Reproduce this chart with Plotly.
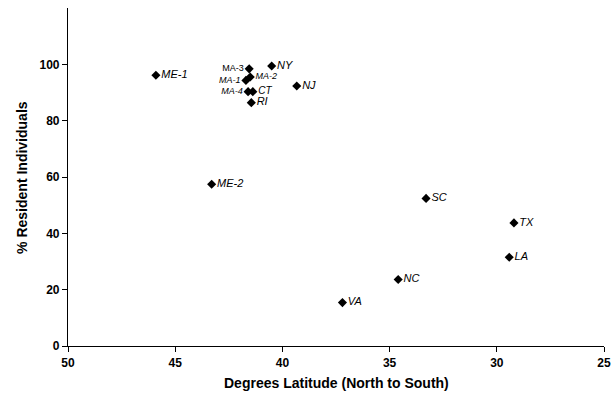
import plotly.graph_objects as go

sites = ["ME-1", "ME-2", "MA-3", "NY", "MA-2", "MA-1", "MA-4", "CT", "RI", "NJ",
         "SC", "TX", "LA", "NC", "VA"]
latitude = [45.9, 43.3, 41.55, 40.5, 41.5, 41.7, 41.6, 41.38, 41.45, 39.33,
            33.3, 29.2, 29.42, 34.6, 37.2]
resident = [96.1, 57.4, 98.4, 99.4, 95.5, 94.3, 90.3, 90.3, 86.4, 92.3,
            52.4, 43.7, 31.5, 23.6, 15.4]
label_side = ["middle right", "middle right", "middle left", "middle right", "middle right",
              "middle left", "middle left", "middle right", "middle right", "middle right",
              "middle right", "middle right", "middle right", "middle right", "middle right"]
label_size = [11, 11, 9, 11, 9, 9, 9, 10, 11, 11, 11, 11, 11, 11, 11]

x_ticks = [50, 45, 40, 35, 30, 25]
y_ticks = [0, 20, 40, 60, 80, 100]

FONT = "Liberation Sans, Arial, sans-serif"

fig = go.Figure(go.Scatter(
    x=latitude, y=resident,
    mode="markers+text",
    marker=dict(symbol="diamond", size=7, color="black"),
    text=["<i>%s</i>" % s if s != "MA-3" else s for s in sites],
    textposition=label_side,
    textfont=dict(family=FONT, size=label_size, color="black"),
    cliponaxis=False,
    showlegend=False,
))

fig.update_layout(
    width=613, height=397,
    margin=dict(l=68, r=9, t=8, b=51),
    plot_bgcolor="white", paper_bgcolor="white",
    font=dict(family=FONT, color="black"),
    annotations=[
        dict(text="<b>Degrees Latitude (North to South)</b>", xref="paper", yref="paper",
             x=0.5, y=-0.08, yanchor="top", xanchor="center", showarrow=False,
             font=dict(size=14, family=FONT)),
        dict(text="<b>% Resident Individuals</b>", xref="paper", yref="paper",
             x=-0.086, y=0.5, xanchor="center", yanchor="middle", textangle=-90,
             showarrow=False, font=dict(size=14, family=FONT)),
    ],
)
fig.update_xaxes(
    range=[50, 25], tickvals=x_ticks, ticks="outside", ticklen=5, tickcolor="black",
    showline=True, linecolor="black", linewidth=1.2, showgrid=False, zeroline=False,
    tickfont=dict(size=12, family=FONT, weight="bold"), automargin=False,
)
fig.update_yaxes(
    range=[0, 120], tickvals=y_ticks, ticks="outside", ticklen=5, tickcolor="black",
    showline=True, linecolor="black", linewidth=1.2, showgrid=False, zeroline=False,
    tickfont=dict(size=12, family=FONT, weight="bold"), automargin=False,
)

fig.write_html(
    "out.html",
    config={"displayModeBar": False},
    post_script="document.body.style.margin='0';document.body.style.overflow='hidden';",
)
